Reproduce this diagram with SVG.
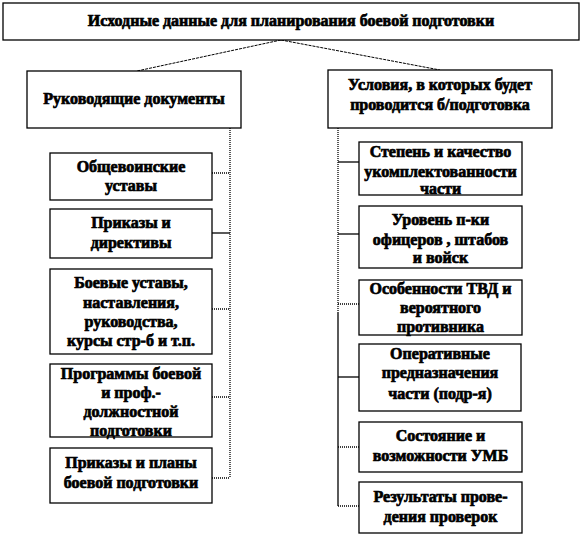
<svg xmlns="http://www.w3.org/2000/svg" width="583" height="537" viewBox="0 0 583 537">
<style>
.box{fill:#fff;stroke:#000;stroke-width:1.3}
text{font-family:"Liberation Serif","Times New Roman",serif;font-weight:bold;font-size:16px;text-anchor:middle;fill:#000;stroke:#000;stroke-width:0.7}
.dot{fill:none;stroke:#000;stroke-width:1.3;stroke-dasharray:1 1}
.sol{fill:none;stroke:#000;stroke-width:1.3}
.dash{fill:none;stroke:#000;stroke-width:1;stroke-dasharray:3 1}
</style>
<rect width="583" height="537" fill="#fff"/>
<g id="connectors">
<path class="dash" d="M281 40 L137 71"/>
<path class="dash" d="M281 40 L440 70"/>
<path class="dot" d="M230 128 V478"/>
<path class="dot" d="M212 173 H230"/>
<path class="sol" d="M212 233 H230"/>
<path class="dot" d="M212 309 H230"/>
<path class="dot" d="M212 397 H230"/>
<path class="dot" d="M212 478 H230"/>
<path class="dot" d="M338 128 V312"/>
<path class="sol" d="M338 312 V506"/>
<path class="sol" d="M338 162 H359"/>
<path class="sol" d="M338 234 H359"/>
<path class="dot" d="M338 304 H359"/>
<path class="sol" d="M338 377 H359"/>
<path class="dot" d="M338 447 H359"/>
<path class="dot" d="M338 506 H359"/>
</g>
<g id="top">
<rect class="box" x="3" y="3" width="576" height="37"/>
<text x="291" y="26">Исходные данные для планирования боевой подготовки</text>
</g>
<g id="left-head">
<rect class="box" x="27" y="71" width="214" height="57"/>
<text x="134" y="104">Руководящие документы</text>
</g>
<g id="right-head">
<rect class="box" x="328" y="70" width="224" height="58"/>
<text x="440" y="90">Условия, в которых будет</text>
<text x="440" y="110">проводится б/подготовка</text>
</g>
<g id="l1">
<rect class="box" x="50" y="153" width="162" height="47"/>
<text x="131" y="172">Общевоинские</text>
<text x="131" y="191">уставы</text>
</g>
<g id="l2">
<rect class="box" x="50" y="209" width="162" height="49"/>
<text x="131" y="228">Приказы  и</text>
<text x="131" y="248">директивы</text>
</g>
<g id="l3">
<rect class="box" x="50" y="269" width="162" height="85"/>
<text x="131" y="288">Боевые уставы,</text>
<text x="131" y="308">наставления,</text>
<text x="131" y="327">руководства,</text>
<text x="131" y="346">курсы стр-б и т.п.</text>
</g>
<g id="l4">
<rect class="box" x="50" y="364" width="162" height="73"/>
<text x="131" y="379">Программы боевой</text>
<text x="131" y="398">и проф.-</text>
<text x="131" y="417">должностной</text>
<text x="131" y="436">подготовки</text>
</g>
<g id="l5">
<rect class="box" x="50" y="448" width="162" height="55"/>
<text x="131" y="468">Приказы  и планы</text>
<text x="131" y="488">боевой подготовки</text>
</g>
<g id="r1">
<rect class="box" x="359" y="142" width="163" height="53"/>
<text x="440.5" y="157">Степень и качество</text>
<text x="440.5" y="177">укомплектованности</text>
<text x="440.5" y="194">части</text>
</g>
<g id="r2">
<rect class="box" x="359" y="206" width="163" height="62"/>
<text x="440.5" y="225">Уровень п-ки</text>
<text x="440.5" y="245">офицеров , штабов</text>
<text x="440.5" y="263">и войск</text>
</g>
<g id="r3">
<rect class="box" x="359" y="280" width="163" height="55"/>
<text x="440.5" y="294">Особенности ТВД и</text>
<text x="440.5" y="313">вероятного</text>
<text x="440.5" y="332">противника</text>
</g>
<g id="r4">
<rect class="box" x="359" y="344" width="162" height="67"/>
<text x="440" y="359">Оперативные</text>
<text x="440" y="378">предназначения</text>
<text x="440" y="399">части (подр-я)</text>
</g>
<g id="r5">
<rect class="box" x="359" y="422" width="163" height="50"/>
<text x="440.5" y="441">Состояние и</text>
<text x="440.5" y="461">возможности УМБ</text>
</g>
<g id="r6">
<rect class="box" x="359" y="482" width="163" height="51"/>
<text x="440.5" y="502">Результаты прове-</text>
<text x="440.5" y="522">дения проверок</text>
</g>
</svg>
